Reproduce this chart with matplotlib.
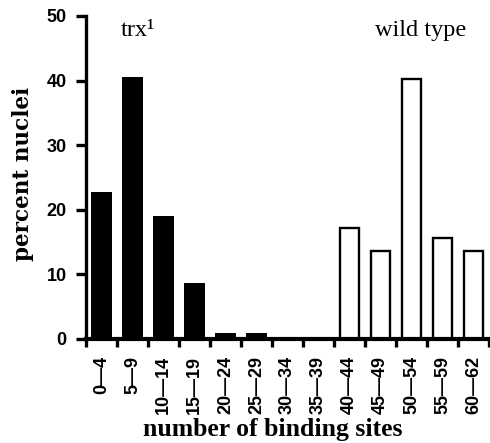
import matplotlib
matplotlib.use("Agg")
import matplotlib.pyplot as plt

categories = ["0—4", "5—9", "10—14", "15—19", "20—24", "25—29", "30—34",
              "35—39", "40—44", "45—49", "50—54", "55—59", "60—62"]
trx_values = [22.7, 40.6, 19.0, 8.6, 0.9, 0.9, 0, 0, None, None, None, None, None]
wt_values = [None, None, None, None, None, None, None, None, 17.2, 13.6, 40.2, 15.6, 13.6]

fig = plt.figure(figsize=(4.9, 4.43), dpi=100)
ax = fig.add_axes([0.1755, 0.2348, 0.8225, 0.7292])

x = list(range(len(categories)))
trx_x = [i for i, v in zip(x, trx_values) if v is not None]
trx_y = [v for v in trx_values if v is not None]
wt_x = [i for i, v in zip(x, wt_values) if v is not None]
wt_y = [v for v in wt_values if v is not None]

ax.bar(trx_x, trx_y, width=0.68, color="black", edgecolor="black", linewidth=0)
ax.bar(wt_x, wt_y, width=0.64, color="white", edgecolor="black", linewidth=1.7)

ax.set_xlim(-0.5, len(categories) - 0.5)
ax.set_ylim(0, 50)

ax.spines["top"].set_visible(False)
ax.spines["right"].set_visible(False)
ax.spines["left"].set_linewidth(2.4)
ax.spines["bottom"].set_linewidth(3.0)

ax.set_xticks([i - 0.5 for i in range(len(categories) + 1)])
ax.set_xticklabels([])
ax.set_xticks(x, minor=True)
ax.set_xticklabels(categories, minor=True, rotation=90, fontsize=13,
                   fontweight="bold", family="Liberation Sans")
ax.tick_params(axis="x", which="major", direction="out", length=6, width=2.4)
ax.tick_params(axis="x", which="minor", length=0, pad=12)

ax.set_yticks([0, 10, 20, 30, 40, 50])
ax.tick_params(axis="y", direction="out", length=7, width=2.4, pad=7)
for lab in ax.get_yticklabels():
    lab.set_fontsize(13)
    lab.set_fontweight("bold")
    lab.set_family("Liberation Sans")

# axis titles placed as figure text
fig.text(0.047, 0.608, "percent nuclei", fontsize=15.5, fontweight="bold",
         family="DejaVu Serif", rotation=90, ha="center", va="center")
fig.text(0.556, 0.016, "number of binding sites", fontsize=18.5,
         fontweight="bold", family="Liberation Serif", ha="center",
         va="baseline")

ax.text(1.16, 47.7, "trx¹", fontsize=17.5, family="Liberation Serif",
        ha="center", va="center")
ax.text(10.3, 47.7, "wild type", fontsize=17.5, family="Liberation Serif",
        ha="center", va="center")

fig.savefig("out.png", dpi=100)
